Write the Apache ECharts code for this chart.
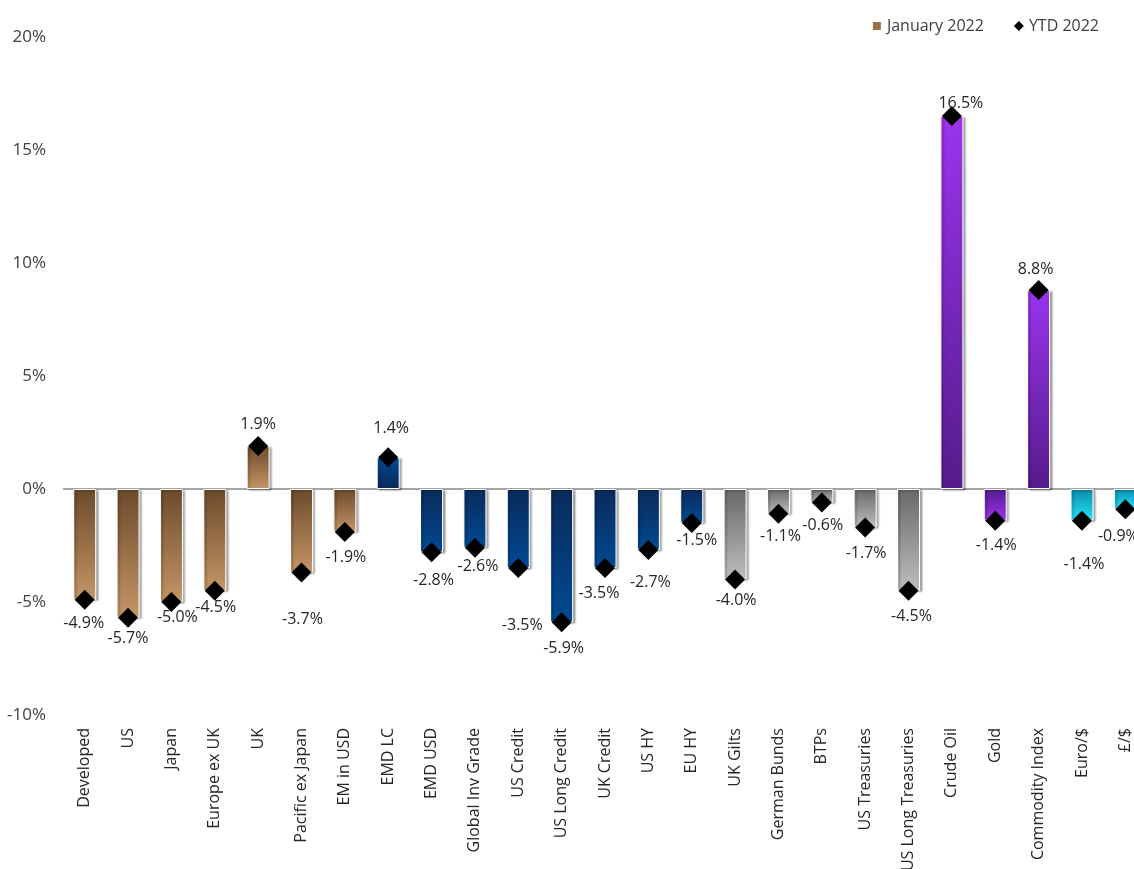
<!DOCTYPE html>
<html>
<head>
<meta charset="utf-8">
<script src="https://cdn.jsdelivr.net/npm/echarts@6/dist/echarts.min.js"></script>
<style>
html,body{margin:0;padding:0;background:#fff;}
#chart{width:1134px;height:869px;}
</style>
</head>
<body>
<div id="chart"></div>
<script>
// ---- data ----
const categories = ["Developed","US","Japan","Europe ex UK","UK","Pacific ex Japan","EM in USD","EMD LC","EMD USD","Global Inv Grade","US Credit","US Long Credit","UK Credit","US HY","EU HY","UK Gilts","German Bunds","BTPs","US Treasuries","US Long Treasuries","Crude Oil","Gold","Commodity Index","Euro/$","£/$"];
const january2022 = [-4.9,-5.7,-5.0,-4.5,1.9,-3.7,-1.9,1.4,-2.8,-2.6,-3.5,-5.9,-3.5,-2.7,-1.5,-4.0,-1.1,-0.6,-1.7,-4.5,16.5,-1.4,8.8,-1.4,-0.9];
const ytd2022 = [-4.9,-5.7,-5.0,-4.5,1.9,-3.7,-1.9,1.4,-2.8,-2.6,-3.5,-5.9,-3.5,-2.7,-1.5,-4.0,-1.1,-0.6,-1.7,-4.5,16.5,-1.4,8.8,-1.4,-0.9];
const groups = ["brown","brown","brown","brown","brown","brown","brown","blue","blue","blue","blue","blue","blue","blue","blue","grey","grey","grey","grey","grey","purple","purple","purple","cyan","cyan"];
const yTicks = [-10,-5,0,5,10,15,20];

// ---- style / layout (not data) ----
const palette = {
  brown:  {dark:"#6b4a2b", light:"#c59566"},
  blue:   {dark:"#0b2a5a", light:"#004a94"},
  grey:   {dark:"#686868", light:"#bebebe"},
  purple: {dark:"#551b8a", light:"#9a34ee"},
  cyan:   {dark:"#0a8cab", light:"#25e4fa"}
};
const labelOffsets = [[-1,24],[0,21],[6,15],[1,17],[0,-22],[1,47],[1,25],[3,-29],[2,28],[3,19],[4,57],[2,26],[-6,25],[2,32],[5,18],[1,21],[2,23],[1,23],[1,26],[3,26],[9,-13],[1,25],[-3,-21],[2,44],[-7,27]];

const FONT = "'Open Sans', 'Noto Sans', sans-serif";

function grad(top, bottom){
  return new echarts.graphic.LinearGradient(0,0,0,1,[{offset:0,color:top},{offset:1,color:bottom}]);
}

const barData = january2022.map((v,i)=>{
  const p = palette[groups[i]];
  let top, bottom;
  if (groups[i]==="brown" || v < 0) { top = p.dark; bottom = p.light; }
  else { top = p.light; bottom = p.dark; }
  return {value:v, itemStyle:{color:grad(top,bottom)}};
});

const ytdData = ytd2022.map((v,i)=>({
  value:v,
  label:{offset:labelOffsets[i]}
}));

const chart = echarts.init(document.getElementById('chart'), null, {renderer:'canvas'});
chart.setOption({
  animation:false,
  backgroundColor:'#ffffff',
  grid:{left:63, right:-13, top:37, bottom:154, containLabel:false, outerBoundsMode:'none'},
  legend:{
    right:30, top:13,
    itemGap:30,
    textStyle:{fontFamily:FONT, fontSize:16, color:'#404040'},
    itemWidth:10, itemHeight:10,
    data:[
      {name:'January 2022', icon:'rect', itemStyle:{color:'#9a7047'}},
      {name:'YTD 2022', icon:'diamond', itemStyle:{color:'#000', opacity:1}}
    ]
  },
  xAxis:{
    type:'category',
    data:categories,
    axisLine:{show:false},
    axisTick:{show:false},
    axisLabel:{
      rotate:90, interval:0, margin:13,
      fontFamily:FONT, fontSize:16, color:'#262626'
    }
  },
  yAxis:{
    type:'value',
    min:yTicks[0], max:yTicks[yTicks.length-1], interval:5,
    splitLine:{show:false},
    axisLine:{show:false},
    axisTick:{show:false},
    axisLabel:{
      margin:17,
      fontFamily:FONT, fontSize:17, color:'#404040',
      formatter:v=>v+'%'
    }
  },
  series:[
    {
      name:'January 2022',
      type:'bar',
      barWidth:23,
      data:barData,
      itemStyle:{
        borderColor:'#ffffff', borderWidth:1,
        shadowColor:'rgba(0,0,0,0.35)', shadowBlur:2, shadowOffsetX:2, shadowOffsetY:1
      },
      markLine:{
        silent:true, symbol:'none',
        label:{show:false},
        lineStyle:{color:'#a6a6a6', width:2, type:'solid'},
        data:[{yAxis:0}],
        z:1
      },
      z:3
    },
    {
      name:'YTD 2022',
      type:'scatter',
      symbol:'diamond',
      symbolSize:[20,20],
      itemStyle:{color:'#000000', opacity:1},
      data:ytdData,
      label:{
        show:true,
        position:'inside',
        fontFamily:FONT, fontSize:16, color:'#262626',
        formatter:p=>p.value.toFixed(1)+'%'
      },
      z:5
    }
  ]
});
</script>
</body>
</html>
